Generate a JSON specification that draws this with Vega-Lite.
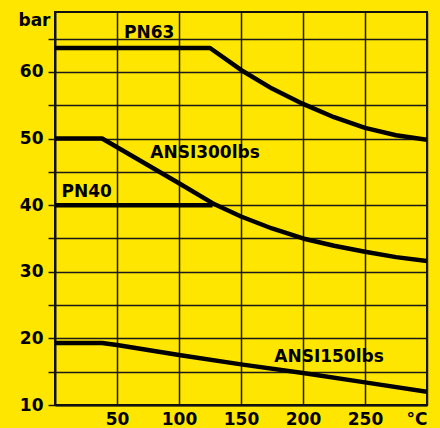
{
  "$schema": "https://vega.github.io/schema/vega-lite/v6.json",
  "autosize": "none",
  "padding": {"left": 55, "top": 12, "right": 13, "bottom": 23},
  "width": 372,
  "height": 393,
  "background": "#FFE600",
  "config": {
    "view": {"stroke": "#111111", "strokeWidth": 2, "fill": "#FFE600"},
    "font": "DejaVu Sans"
  },
  "layer": [
    {
      "data": {
        "values": [
          {"series": "PN63", "t": 0, "p": 63.6},
          {"series": "PN63", "t": 125, "p": 63.6},
          {"series": "PN63", "t": 150, "p": 60.3},
          {"series": "PN63", "t": 175, "p": 57.5},
          {"series": "PN63", "t": 200, "p": 55.2},
          {"series": "PN63", "t": 225, "p": 53.2},
          {"series": "PN63", "t": 250, "p": 51.6},
          {"series": "PN63", "t": 275, "p": 50.5},
          {"series": "PN63", "t": 300, "p": 49.8},
          {"series": "ANSI300", "t": 0, "p": 50},
          {"series": "ANSI300", "t": 38, "p": 50},
          {"series": "ANSI300", "t": 100, "p": 43.3},
          {"series": "ANSI300", "t": 127, "p": 40.3},
          {"series": "ANSI300", "t": 150, "p": 38.3},
          {"series": "ANSI300", "t": 175, "p": 36.5},
          {"series": "ANSI300", "t": 200, "p": 35.0},
          {"series": "ANSI300", "t": 225, "p": 33.9},
          {"series": "ANSI300", "t": 250, "p": 33.0},
          {"series": "ANSI300", "t": 275, "p": 32.2},
          {"series": "ANSI300", "t": 300, "p": 31.6},
          {"series": "PN40", "t": 0, "p": 40},
          {"series": "PN40", "t": 127, "p": 40},
          {"series": "ANSI150", "t": 0, "p": 19.3},
          {"series": "ANSI150", "t": 38, "p": 19.3},
          {"series": "ANSI150", "t": 50, "p": 19.0},
          {"series": "ANSI150", "t": 100, "p": 17.5},
          {"series": "ANSI150", "t": 150, "p": 16.1},
          {"series": "ANSI150", "t": 200, "p": 14.8},
          {"series": "ANSI150", "t": 250, "p": 13.4},
          {"series": "ANSI150", "t": 300, "p": 12.0}
        ]
      },
      "mark": {"type": "line", "color": "#000000", "strokeWidth": 4.5, "strokeJoin": "round", "clip": true},
      "encoding": {
        "x": {
          "field": "t", "type": "quantitative",
          "scale": {"domain": [0, 300], "nice": false, "zero": false},
          "axis": {
            "title": null,
            "values": [50, 100, 150, 200, 250, 300],
            "tickCount": 20,
            "labelExpr": "datum.value == 300 ? '°C' : datum.label",
            "labelFlush": true,
            "labelFont": "DejaVu Sans",
            "labelFontSize": 17,
            "labelFontWeight": "bold",
            "labelColor": "#000000",
            "labelPadding": 6,
            "ticks": false,
            "grid": true,
            "gridColor": "#1a1a1a",
            "gridWidth": 1.5,
            "gridOpacity": 1,
            "domainColor": "#111111",
            "domainWidth": 2
          }
        },
        "y": {
          "field": "p", "type": "quantitative",
          "scale": {"domain": [10, 69], "nice": false, "zero": false},
          "axis": {
            "title": "bar",
            "titleAngle": 0,
            "titleAlign": "right",
            "titleBaseline": "top",
            "titleX": -5,
            "titleY": 0,
            "titleFont": "DejaVu Sans",
            "titleFontSize": 17,
            "titleFontWeight": "bold",
            "titleColor": "#000000",
            "values": [10, 15, 20, 25, 30, 35, 40, 45, 50, 55, 60, 65],
            "tickCount": 20,
            "labelExpr": "datum.value % 10 == 0 ? datum.label : ''",
            "labelFont": "DejaVu Sans",
            "labelFontSize": 17,
            "labelFontWeight": "bold",
            "labelColor": "#000000",
            "labelPadding": 5,
            "tickSize": 7,
            "tickColor": "#1a1a1a",
            "tickWidth": 1.5,
            "grid": true,
            "gridColor": "#1a1a1a",
            "gridWidth": 1.5,
            "gridOpacity": 1,
            "domainColor": "#111111",
            "domainWidth": 2
          }
        },
        "detail": {"field": "series"}
      }
    },
    {
      "data": {
        "values": [
          {"t": 76, "p": 65.8, "label": "PN63"},
          {"t": 121, "p": 47.8, "label": "ANSI300lbs"},
          {"t": 25.5, "p": 42.0, "label": "PN40"},
          {"t": 221, "p": 17.25, "label": "ANSI150lbs"}
        ]
      },
      "mark": {"type": "text", "font": "DejaVu Sans", "fontSize": 17, "fontWeight": "bold", "color": "#000000", "align": "center", "baseline": "middle"},
      "encoding": {
        "x": {"field": "t", "type": "quantitative"},
        "y": {"field": "p", "type": "quantitative"},
        "text": {"field": "label"}
      }
    }
  ]
}
